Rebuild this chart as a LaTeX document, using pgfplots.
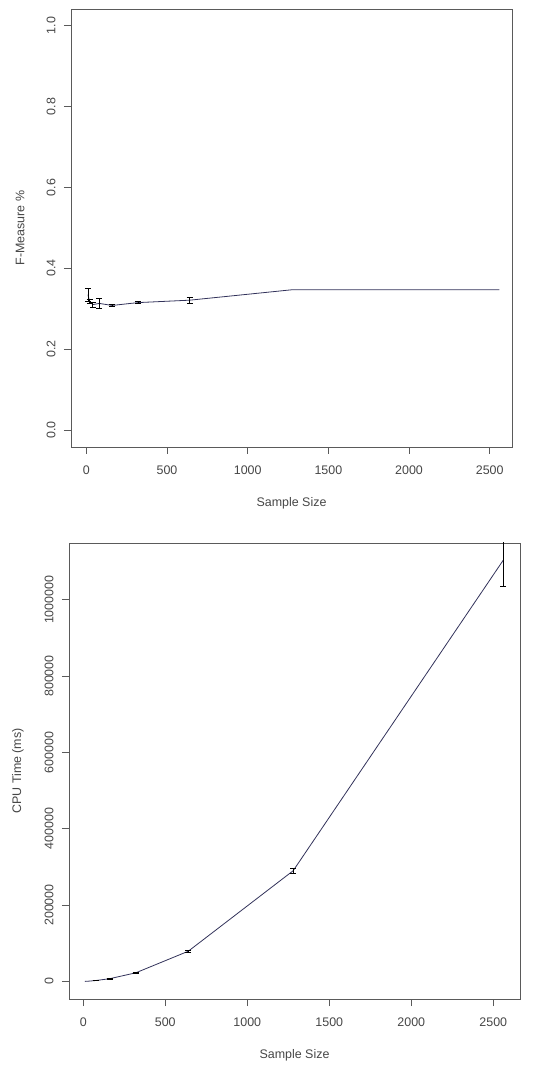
\documentclass[border=0pt]{standalone}
\usepackage{fontspec}
\setmainfont{Liberation Sans}
\usepackage{pgfplots}
\pgfplotsset{compat=1.18}
\definecolor{boxc}{RGB}{90,90,90}
\definecolor{linec}{RGB}{50,50,90}
\definecolor{txt}{RGB}{70,70,70}
\begin{document}
\begin{tikzpicture}
\useasboundingbox (0bp,0bp) rectangle (547bp,1068bp);
\pgfplotsset{
 rstyle/.style={
  scale only axis,
  axis line style={boxc, line width=0.8bp},
  tick style={boxc, line width=0.8bp},
  tick align=outside, major tick length=7bp,
  tick pos=left,
  font=\fontsize{12.5}{14}\selectfont,
  ticklabel style={text=txt},
  label style={text=txt},
  /pgf/number format/assume math mode=true,
  yticklabel style={rotate=90, anchor=south, yshift=5bp},
  xtick={0,500,1000,1500,2000,2500},
  xticklabel style={yshift=-8bp, /pgf/number format/1000 sep={}},
  xlabel={Sample Size},
  xlabel style={at={(axis description cs:0.5,0)}, anchor=center, yshift=-56bp},
  ylabel style={at={(axis description cs:0,0.5)}, anchor=center, yshift=51bp},
 },
 ebars/.style={draw=none, mark=none, forget plot,
  error bars/.cd, y dir=both, y explicit, error mark=|,
  error bar style={black, line width=0.8bp},
  error mark options={black, mark size=3bp, line width=0.8bp}},
}
\begin{axis}[rstyle, at={(71bp,621bp)}, anchor=south west, width=441bp, height=438bp,
 xmin=-95, xmax=2638,
 ymin=-0.042, ymax=1.041, ytick={0,0.2,0.4,0.6,0.8,1},
 yticklabel style={/pgf/number format/.cd, fixed, fixed zerofill, precision=1},
 ylabel={F-Measure \%}]
\addplot[linec, line width=0.8bp, mark=none] table[x=x, y=y]{
x y
10 0.335
20 0.318
40 0.310
80 0.313
160 0.308
320 0.315
640 0.321
1280 0.347
2560 0.347
};
\addplot[ebars] table[x=x, y=y, y error=e]{
x y e
10 0.335 0.016
20 0.318 0.005
40 0.310 0.006
80 0.313 0.012
160 0.308 0.003
320 0.315 0.002
640 0.321 0.008
};
\end{axis}
\begin{axis}[rstyle, at={(69bp,69bp)}, anchor=south west, width=451bp, height=456bp,
 xmin=-87, xmax=2663,
 ymin=-46100, ymax=1148600, ytick={0,200000,400000,600000,800000,1000000},
 scaled y ticks=false,
 yticklabel style={/pgf/number format/.cd, fixed, 1000 sep={}},
 ylabel={CPU Time (ms)}]
\addplot[linec, line width=0.8bp, mark=none] table[x=x, y=y]{
x y
10 100
20 300
40 900
80 2500
160 7000
320 22500
640 79000
1280 290000
2560 1103000
};
\addplot[ebars] table[x=x, y=y, y error=e]{
x y e
80 2500 500
160 7000 800
320 22500 1500
640 79000 2500
1280 290000 7000
2560 1103000 68000
};
\end{axis}
\end{tikzpicture}
\end{document}
